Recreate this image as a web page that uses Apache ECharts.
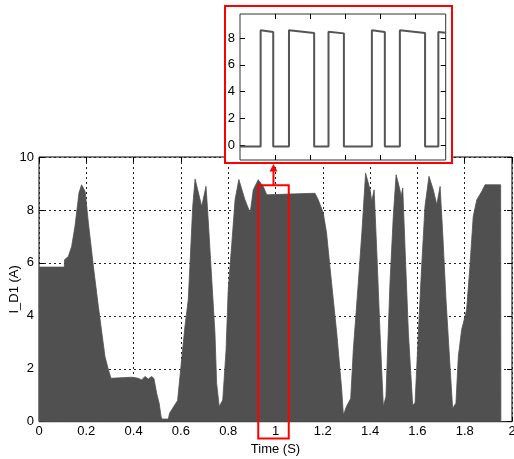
<!DOCTYPE html>
<html><head><meta charset="utf-8">
<script src="https://cdn.jsdelivr.net/npm/echarts@6/dist/echarts.min.js"></script>
<style>html,body{margin:0;padding:0;background:#fff}#c{width:514px;height:459px}</style>
</head><body><div id="c"></div>
<script>
// Main trace: envelope of I_D1 (A) vs time (s)
const times = [0, 0.107, 0.108, 0.124, 0.138, 0.152, 0.169, 0.180, 0.195, 0.209, 0.230, 0.251, 0.279, 0.290, 0.304,
  0.392, 0.420, 0.434, 0.448, 0.462, 0.476, 0.486, 0.498, 0.508, 0.516, 0.520, 0.547, 0.552, 0.568, 0.586, 0.596,
  0.617, 0.631, 0.638, 0.650, 0.660, 0.688, 0.695, 0.706, 0.712, 0.723, 0.744, 0.751, 0.762, 0.777, 0.791, 0.800,
  0.815, 0.829, 0.845, 0.871, 0.893, 0.906, 0.913, 0.927, 0.948, 0.963, 1.060, 1.167, 1.181, 1.202, 1.216, 1.230,
  1.259, 1.280, 1.287, 1.300, 1.318, 1.329, 1.350, 1.365, 1.381, 1.400, 1.407, 1.417, 1.428, 1.442, 1.456, 1.467,
  1.484, 1.498, 1.510, 1.526, 1.531, 1.538, 1.548, 1.562, 1.580, 1.590, 1.604, 1.618, 1.632, 1.649, 1.667, 1.682,
  1.696, 1.707, 1.721, 1.738, 1.749, 1.763, 1.773, 1.787, 1.808, 1.822, 1.836, 1.851, 1.872, 1.886, 1.952, 1.953];
const currents = [5.84, 5.84, 6.12, 6.24, 6.62, 7.37, 8.64, 8.95, 8.70, 7.50, 5.86, 4.35, 2.46, 2.08, 1.64,
  1.68, 1.64, 1.58, 1.71, 1.61, 1.71, 1.63, 1.05, 0.70, 0.20, 0.10, 0.10, 0.32, 0.55, 0.80, 1.70,
  3.59, 4.60, 5.86, 8.13, 9.17, 8.13, 8.07, 8.89, 8.13, 6.49, 3.34, 1.45, 0.57, 0.82, 2.71, 4.98,
  6.70, 8.38, 9.15, 8.38, 7.88, 8.76, 8.89, 9.14, 8.89, 8.57, 8.60, 8.63, 8.38, 7.88, 7.12, 5.86,
  3.34, 1.20, 0.25, 0.57, 0.88, 2.71, 5.23, 7.12, 9.39, 8.76, 8.32, 8.76, 6.49, 3.34, 0.57, 0.95,
  5.23, 7.75, 9.33, 8.76, 8.51, 8.83, 6.49, 3.34, 0.63, 0.70, 3.34, 5.86, 8.13, 9.27, 8.76, 8.20,
  8.89, 7.12, 4.60, 2.08, 0.51, 0.70, 2.46, 3.47, 4.22, 5.86, 7.75, 8.38, 8.70, 8.95, 8.95, 0];

// Inset: zoomed PWM current (arbitrary time units)
const insetTimes = [0, 0.59, 0.59, 0.95, 0.95, 1.40, 1.40, 2.12, 2.12, 2.53, 2.53, 2.97, 2.97, 3.77, 3.77, 4.14,
  4.14, 4.57, 4.57, 5.29, 5.29, 5.67, 5.67, 5.88];
const insetCurrents = [-0.1, -0.1, 8.6, 8.46, -0.1, -0.1, 8.6, 8.39, -0.1, -0.1, 8.49, 8.36, -0.1, -0.1, 8.6, 8.46,
  -0.1, -0.1, 8.6, 8.39, -0.1, -0.1, 8.46, 8.4];
const insetYTicks = [0, 2, 4, 6, 8];
const insetXTicks = [1, 2, 3, 4, 5];
const mainXTicks = [0, 0.2, 0.4, 0.6, 0.8, 1, 1.2, 1.4, 1.6, 1.8, 2];
const mainYTicks = [0, 2, 4, 6, 8, 10];

// zoom window marked on the main chart (data units)
const zoomWindowT = [0.927, 1.056];
const zoomWindowI = [-0.63, 8.93];

const FONT = '"Liberation Sans", Arial, sans-serif';
const chart = echarts.init(document.getElementById('c'), null, {renderer: 'canvas'});
const mainData = times.map((t, i) => [t, currents[i]]);
const insetData = insetTimes.map((t, i) => [t, insetCurrents[i]]);
const gridLine = {show: true, lineStyle: {color: '#222', type: [2, 3], width: 1}};
const tickIn = {show: true, inside: true, length: 5, lineStyle: {color: '#000', width: 1}};
const noLine = {show: false, onZero: false};
const lbl = {color: '#000', fontSize: 13, fontFamily: FONT};
const fmtMain = v => String(mainXTicks.find(x => Math.abs(x - v) < 1e-6) ?? v);

chart.setOption({
  animation: false,
  grid: [
    {left: 39, right: 2, top: 157, bottom: 37.3, show: true, borderColor: '#000', borderWidth: 1,
      backgroundColor: '#fff', z: 0, containLabel: false, outerBoundsMode: 'none'},
    {left: 240, right: 68.3, top: 14, bottom: 299, show: true, borderColor: '#333', borderWidth: 1,
      backgroundColor: '#fff', z: 20, containLabel: false, outerBoundsMode: 'none'}
  ],
  xAxis: [
    {type: 'value', gridIndex: 0, min: 0, max: 2, interval: 0.2, position: 'bottom',
      axisLine: noLine, axisTick: tickIn,
      axisLabel: Object.assign({}, lbl, {margin: 3, showMinLabel: true, showMaxLabel: true, hideOverlap: false, formatter: fmtMain}),
      splitLine: gridLine, name: 'Time (S)', nameLocation: 'middle', nameGap: 21, nameMoveOverlap: false, nameTextStyle: lbl},
    {type: 'value', gridIndex: 0, min: 0, max: 2, interval: 0.2, position: 'top',
      axisLine: noLine, axisTick: tickIn, axisLabel: {show: false}, splitLine: {show: false}},
    {type: 'value', gridIndex: 1, min: 0, max: 5.88, position: 'bottom', z: 21,
      axisLine: noLine, axisTick: Object.assign({}, tickIn, {customValues: insetXTicks}),
      axisLabel: {show: false}, splitLine: {show: false}},
    {type: 'value', gridIndex: 1, min: 0, max: 5.88, position: 'top', z: 21,
      axisLine: noLine, axisTick: Object.assign({}, tickIn, {customValues: insetXTicks}),
      axisLabel: {show: false}, splitLine: {show: false}}
  ],
  yAxis: [
    {type: 'value', gridIndex: 0, min: 0, max: 10, interval: 2, position: 'left',
      axisLine: noLine, axisTick: tickIn,
      axisLabel: Object.assign({}, lbl, {margin: 5}),
      splitLine: gridLine, name: 'I_D1 (A)', nameLocation: 'middle', nameGap: 18, nameRotate: 90,
      nameMoveOverlap: false, nameTextStyle: lbl},
    {type: 'value', gridIndex: 0, min: 0, max: 10, interval: 2, position: 'right',
      axisLine: noLine, axisTick: tickIn, axisLabel: {show: false}, splitLine: {show: false}},
    {type: 'value', gridIndex: 1, min: -1.12, max: 9.81, position: 'left', z: 21,
      axisLine: noLine, axisTick: Object.assign({}, tickIn, {customValues: insetYTicks}),
      axisLabel: Object.assign({}, lbl, {margin: 5, customValues: insetYTicks}), splitLine: {show: false}},
    {type: 'value', gridIndex: 1, min: -1.12, max: 9.81, position: 'right', z: 21,
      axisLine: noLine, axisTick: Object.assign({}, tickIn, {customValues: insetYTicks}),
      axisLabel: {show: false}, splitLine: {show: false}}
  ],
  series: [
    {type: 'line', xAxisIndex: 0, yAxisIndex: 0, data: mainData, showSymbol: false, z: 2,
      lineStyle: {color: '#505050', width: 0.8}, areaStyle: {color: '#505050', opacity: 1}},
    {type: 'line', xAxisIndex: 2, yAxisIndex: 2, data: insetData, showSymbol: false, z: 22,
      lineStyle: {color: '#555', width: 2}}
  ]
});

const p1 = chart.convertToPixel({xAxisIndex: 0, yAxisIndex: 0}, [zoomWindowT[0], zoomWindowI[1]]);
const p2 = chart.convertToPixel({xAxisIndex: 0, yAxisIndex: 0}, [zoomWindowT[1], zoomWindowI[0]]);
const cx = (p1[0] + p2[0]) / 2;
chart.setOption({
  graphic: [
    {type: 'rect', z: 10, shape: {x: 225, y: 6, width: 227, height: 157},
      style: {fill: '#fff', stroke: '#f00', lineWidth: 2}},
    {type: 'rect', z: 10, shape: {x: p1[0], y: p1[1], width: p2[0] - p1[0], height: p2[1] - p1[1]},
      style: {fill: null, stroke: '#f00', lineWidth: 2}},
    {type: 'line', z: 10, shape: {x1: cx, y1: p1[1], x2: cx, y2: 170},
      style: {stroke: '#f00', lineWidth: 2}},
    {type: 'polygon', z: 10, shape: {points: [[cx, 164], [cx - 4, 171.5], [cx + 4, 171.5]]},
      style: {fill: '#f00'}}
  ]
});
</script>
</body></html>
